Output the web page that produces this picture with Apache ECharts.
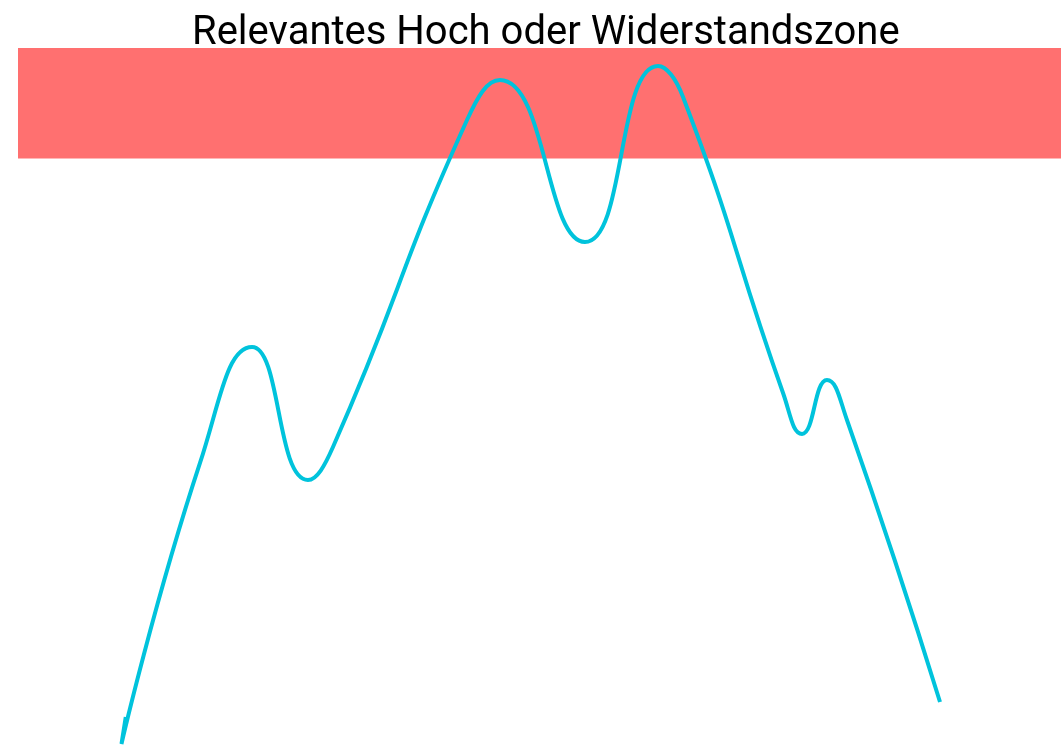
<!DOCTYPE html>
<html>
<head>
<meta charset="utf-8">
<script src="https://cdn.jsdelivr.net/npm/echarts@6/dist/echarts.min.js"></script>
<style>
html,body{margin:0;padding:0;background:#fff;}
#chart{width:1061px;height:747px;}
</style>
</head>
<body>
<div id="chart"></div>
<script>
// Chart values
const titleText = 'Relevantes Hoch oder Widerstandszone';
const xValues = [10.33, 9.92, 17.45, 22.44, 27.80, 30.20, 43.05, 46.21, 54.36, 61.36, 63.76, 73.35, 75.17, 77.56, 79.48, 88.40];
const yValues = [4.29, 0.43, 40.63, 57.22, 38.20, 42.92, 89.70, 95.42, 72.25, 97.42, 92.99, 50.64, 44.78, 52.50, 46.78, 6.44];
const zoneLow = 84.2;
const zoneHigh = 100;
const xRange = [0, 100];
const yRange = [0, 100];

const lineData = xValues.map((x, i) => [x, yValues[i]]);

const chart = echarts.init(document.getElementById('chart'));
chart.setOption({
  animation: false,
  backgroundColor: '#ffffff',
  title: {
    text: titleText,
    left: 187,
    top: 9,
    textStyle: { fontFamily: 'Roboto', fontSize: 40, fontWeight: 'normal', color: '#000000' }
  },
  grid: { left: 18, right: 0, top: 48, bottom: 0 },
  xAxis: { type: 'value', min: xRange[0], max: xRange[1], show: false },
  yAxis: { type: 'value', min: yRange[0], max: yRange[1], show: false },
  series: [
    {
      type: 'line',
      z: 1,
      data: [],
      silent: true,
      markArea: {
        silent: true,
        itemStyle: { color: '#FF7070', opacity: 1 },
        data: [[{ yAxis: zoneLow }, { yAxis: zoneHigh }]]
      }
    },
    {
      type: 'line',
      z: 3,
      data: lineData,
      smooth: 0.5,
      showSymbol: false,
      lineStyle: { color: '#00C3DC', width: 4 }
    }
  ]
});
</script>
</body>
</html>
